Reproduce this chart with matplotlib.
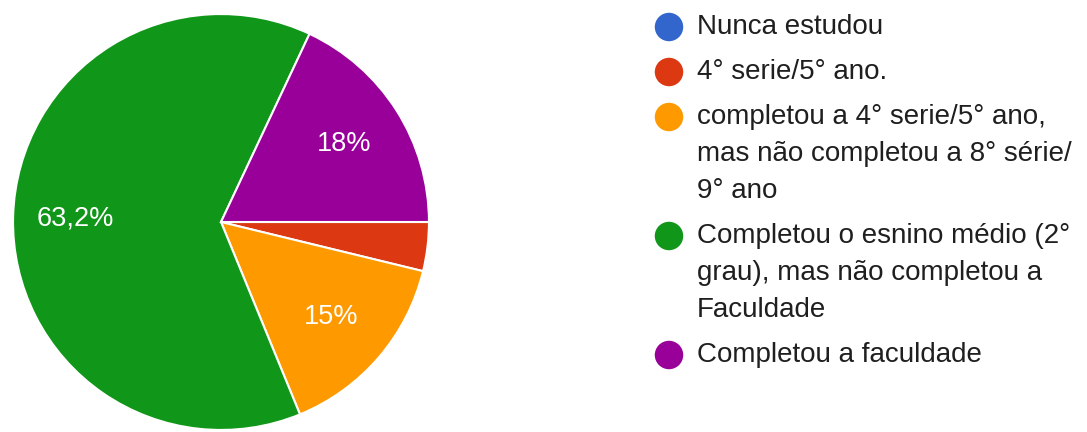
import matplotlib
matplotlib.use("Agg")
import matplotlib.pyplot as plt

# dados
categorias = [
    "Nunca estudou",
    "4° serie/5° ano.",
    "completou a 4° serie/5° ano,\nmas não completou a 8° série/\n9° ano",
    "Completou o esnino médio (2°\ngrau), mas não completou a\nFaculdade",
    "Completou a faculdade",
]
percentuais = [0.0, 3.8, 15.0, 63.2, 18.0]
cores = ["#3366CC", "#DC3912", "#FF9900", "#109618", "#990099"]

W, H = 1087, 432
plt.rcParams["font.family"] = ["Liberation Sans", "DejaVu Sans"]

fig = plt.figure(figsize=(W / 100, H / 100), dpi=100)
fig.patch.set_facecolor("white")

# pizza : centro (221, 222) px, raio 209 px
cx, cy, r = 221, 222, 209
ax = fig.add_axes([(cx - r) / W, (H - cy - r) / H, 2 * r / W, 2 * r / H])


def fmt_pct(p):
    if p < 5:
        return ""
    s = f"{p:.1f}".rstrip("0").rstrip(".")
    return s.replace(".", ",") + "%"


wedges, _, autotexts = ax.pie(
    percentuais, colors=cores, startangle=0, counterclock=False,
    autopct=fmt_pct, pctdistance=0.70,
    wedgeprops=dict(edgecolor="white", linewidth=1.5),
    textprops=dict(color="white", fontsize=19.5),
)
ax.set_xlim(-1.005, 1.005)
ax.set_ylim(-1.005, 1.005)
ax.set_aspect("equal")

# legenda desenhada à mão, o círculo alinhado com a primeira linha
lg = fig.add_axes([0, 0, 1, 1])
lg.set_xlim(0, W)
lg.set_ylim(H, 0)
lg.axis("off")

y = 27
for cat, cor in zip(categorias, cores):
    lg.scatter([669], [y], s=420, color=cor, edgecolors="none")
    for linha in cat.split("\n"):
        lg.text(697, y, linha, fontsize=20, color="#1f1f1f", va="center", ha="left")
        y += 37
    y += 45 - 37

fig.savefig("out.png", dpi=100, facecolor="white")
